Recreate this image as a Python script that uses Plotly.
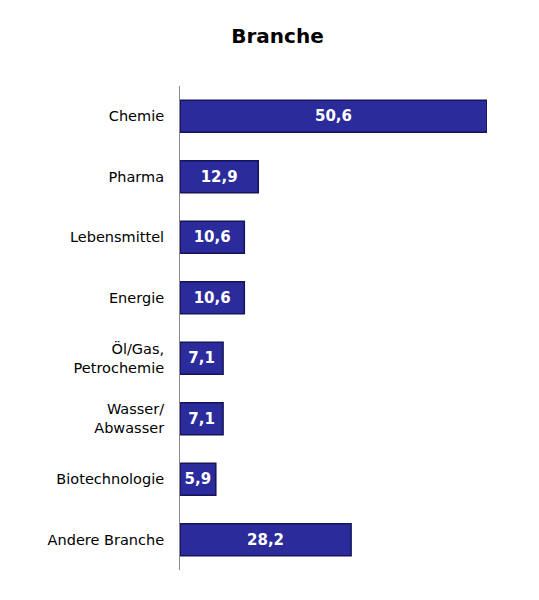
import plotly.graph_objects as go

categories = ["Chemie", "Pharma", "Lebensmittel", "Energie", "Öl/Gas,<br>Petrochemie",
              "Wasser/<br>Abwasser", "Biotechnologie", "Andere Branche"]
values = [50.6, 12.9, 10.6, 10.6, 7.1, 7.1, 5.9, 28.2]
labels = [f"{v:.1f}".replace(".", ",") for v in values]

fig = go.Figure(go.Bar(
    x=values, y=categories, orientation="h",
    marker=dict(color="#2B2B9C", line=dict(color="#14145A", width=1.5)),
    text=labels, textposition="inside", insidetextanchor="middle",
    textfont=dict(color="white", size=15, family="DejaVu Sans"),
    width=0.53,
))
fig.update_traces(texttemplate="<b>%{text}</b>")
fig.update_layout(
    width=539, height=600,
    margin=dict(l=172, r=60, t=78, b=38),
    paper_bgcolor="white", plot_bgcolor="white",
    title=dict(text="<b>Branche</b>", x=0.5, xanchor="center", y=0.965,
               font=dict(size=20, family="DejaVu Sans", color="black")),
    font=dict(family="DejaVu Sans", size=14.5, color="black"),
    showlegend=False,
)
fig.update_xaxes(range=[0, 50.6], visible=False)
fig.update_yaxes(autorange="reversed", showline=True, linecolor="#888", linewidth=1,
                 ticks="", ticklabelstandoff=12, showgrid=False)
fig.write_html("out.html")
